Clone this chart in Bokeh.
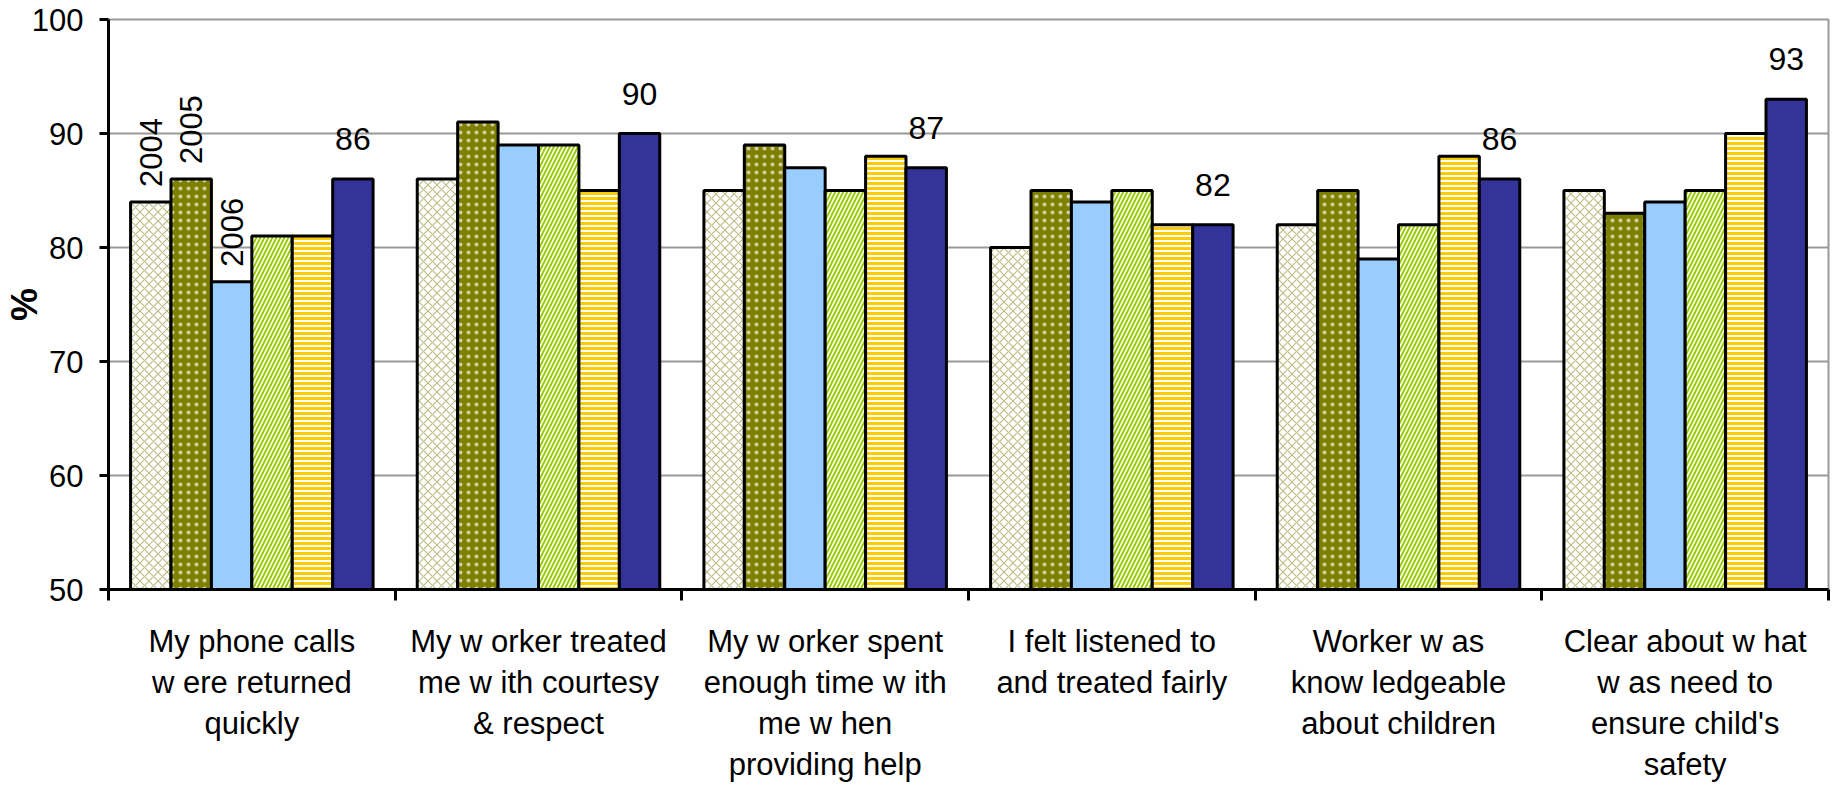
import math

from bokeh.core.properties import value
from bokeh.embed import file_html
from bokeh.models import FixedTicker
from bokeh.plotting import figure
from bokeh.resources import INLINE

# Survey statements (x-axis categories)
categories = [
    "My phone calls\nw ere returned\nquickly",
    "My w orker treated\nme w ith courtesy\n& respect",
    "My w orker spent\nenough time w ith\nme w hen\nproviding help",
    "I felt listened to\nand treated fairly",
    "Worker w as\nknow ledgeable\nabout children",
    "Clear about w hat\nw as need to\nensure child's\nsafety",
]

# Percentage agreeing, one list per survey year
years = ["2004", "2005", "2006", "2007", "2008", "2009"]
s2004 = [84, 86, 85, 80, 82, 85]
s2005 = [86, 91, 89, 85, 85, 83]
s2006 = [77, 89, 87, 84, 79, 84]
s2007 = [81, 89, 85, 85, 82, 85]
s2008 = [81, 85, 88, 82, 88, 90]
s2009 = [86, 90, 87, 82, 86, 93]
series = [s2004, s2005, s2006, s2007, s2008, s2009]

y_ticks = [50, 60, 70, 80, 90, 100]

FONT = "Liberation Sans"
n_cat = len(categories)
n_ser = len(series)
bar_w = 0.141

# Per-series bar styling: fill, hatch pattern, hatch colour
styles = [
    dict(fill_color="white", hatch_pattern="diagonal_cross", hatch_color="#bdbd86", hatch_scale=9, hatch_weight=1.2),
    dict(fill_color="#808000", hatch_pattern="dot", hatch_color="#d0d0a0", hatch_scale=8, hatch_weight=0.6),
    dict(fill_color="#99ccff"),
    dict(fill_color="white", hatch_pattern="right_diagonal_line", hatch_color="#99cc00", hatch_scale=8, hatch_weight=2),
    dict(fill_color="white", hatch_pattern="horizontal_line", hatch_color="#ffcc00", hatch_scale=5, hatch_weight=3),
    dict(fill_color="#333399"),
]

p = figure(
    width=1841, height=792,
    x_range=(0, n_cat), y_range=(y_ticks[0], y_ticks[-1]),
    output_backend="svg", toolbar_location=None,
    min_border_left=106, min_border_right=13,
    min_border_top=19, min_border_bottom=203,
)
p.background_fill_color = "white"
p.border_fill_color = "white"
p.outline_line_color = "#999999"
p.outline_line_width = 2

# horizontal grid
p.xgrid.grid_line_color = None
p.ygrid.grid_line_color = "#999999"
p.ygrid.grid_line_width = 2
p.ygrid.ticker = FixedTicker(ticks=y_ticks)

def x_positions(j):
    return [i + 0.5 + (j - (n_ser - 1) / 2) * bar_w for i in range(n_cat)]

for j, vals in enumerate(series):
    p.vbar(x=x_positions(j), top=vals, bottom=y_ticks[0], width=bar_w,
           line_color="black", line_width=3, **styles[j])

# Series names above the first group's first three bars
for j in range(3):
    p.text(x=[x_positions(j)[0]], y=[series[j][0]], text=[years[j]],
           angle=math.pi / 2, y_offset=-15,
           text_align="left", text_baseline="middle",
           text_font=value(FONT), text_font_size="31px", text_color="black")

# Value labels on the last series
p.text(x=x_positions(n_ser - 1), y=s2009, text=[str(v) for v in s2009],
       y_offset=-40, text_align="center", text_baseline="alphabetic",
       text_font=value(FONT), text_font_size="32px", text_color="black")

# y axis
yax = p.yaxis[0]
yax.ticker = FixedTicker(ticks=y_ticks)
yax.axis_line_color = "black"
yax.axis_line_width = 3
yax.major_tick_line_color = "black"
yax.major_tick_line_width = 3
yax.major_tick_out = 9
yax.major_tick_in = 0
yax.minor_tick_line_color = None
yax.major_label_standoff = 16
yax.major_label_text_font = FONT
yax.major_label_text_font_size = "31px"
yax.major_label_text_color = "black"
yax.axis_label = "%"
yax.axis_label_standoff = -16
yax.axis_label_text_font = FONT
yax.axis_label_text_font_size = "37px"
yax.axis_label_text_font_style = "bold"
yax.axis_label_text_color = "black"

# x axis: labels at category centres, ticks at category boundaries
xax = p.xaxis[0]
xax.ticker = FixedTicker(ticks=[i + 0.5 for i in range(n_cat)],
                         minor_ticks=list(range(n_cat + 1)))
xax.major_label_overrides = {i + 0.5: c for i, c in enumerate(categories)}
xax.axis_line_color = "black"
xax.axis_line_width = 3
xax.major_tick_out = 0
xax.major_tick_in = 0
xax.minor_tick_out = 11
xax.minor_tick_in = 0
xax.minor_tick_line_color = "black"
xax.minor_tick_line_width = 3
xax.major_label_standoff = 23
xax.major_label_text_font = FONT
xax.major_label_text_font_size = "31px"
xax.major_label_text_line_height = 1.18
xax.major_label_text_color = "black"

open("out.html", "w").write(file_html(p, INLINE))
